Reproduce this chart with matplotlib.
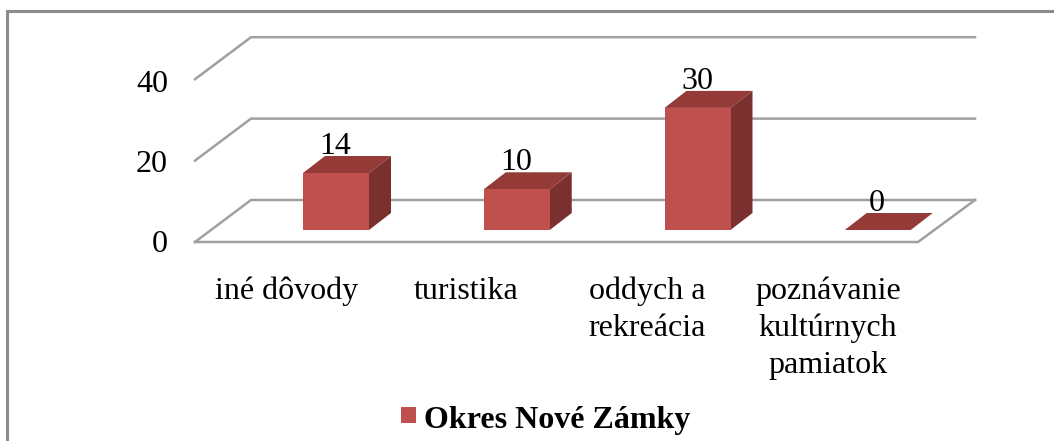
import matplotlib
matplotlib.use("Agg")
import matplotlib.pyplot as plt
from matplotlib.patches import Polygon, Rectangle

categories = ["iné dôvody", "turistika", "oddych a\nrekreácia", "poznávanie\nkultúrnych\npamiatok"]
values = [14, 10, 30, 0]
ticks = [0, 20, 40]
series_name = "Okres Nové Zámky"

W, H = 1054, 441
plt.rcParams["font.family"] = ["Liberation Serif", "DejaVu Serif"]
fig = plt.figure(figsize=(W / 100, H / 100), dpi=100, facecolor="white")
ax = fig.add_axes([0, 0, 1, 1])
ax.axis("off")

# scale: category 0 centre at x=336 px, step 180.75 px; value 0 (bar front) at y=230 px, 4.07 px per unit
XS, YS = 180.75, 4.07
ax.set_xlim((0 - 336) / XS, (W - 336) / XS)
ax.set_ylim((230 - H) / YS, 230 / YS)

def dx(px):
    return px / XS

def dy(px):
    return px / YS

fx = lambda px: (px - 336) / XS
GRID = "#a0a0a0"
FRONT_L, FRONT_R = fx(195), fx(918)
BACK_L, BACK_R = fx(251), fx(975)
FLOOR_FRONT = -dy(12)
BACK = dy(30)

for t in ticks:
    ax.plot([FRONT_L, BACK_L, BACK_R], [t + FLOOR_FRONT, t + BACK, t + BACK],
            color=GRID, lw=1.8, solid_joinstyle="miter", zorder=1)
ax.plot([FRONT_L, FRONT_R, BACK_R], [FLOOR_FRONT, FLOOR_FRONT, BACK], color=GRID, lw=1.8, zorder=1)

FACE, TOP, SIDE = "#c0504d", "#943a37", "#7a302e"
half = dx(33)
DX, DY = dx(22), dy(17)
for i, v in enumerate(values):
    l, r = i - half, i + half
    if i == 3:
        l, r = l - dx(0.5), r - dx(0.5)
    if v > 0:
        ax.add_patch(Polygon([(r, 0), (r + DX, DY), (r + DX, v + DY), (r, v)], fc=SIDE, ec="none", zorder=3))
        ax.add_patch(Rectangle((l, 0), r - l, v, fc=FACE, ec="none", zorder=4))
    ax.add_patch(Polygon([(l, v), (r, v), (r + DX, v + DY), (l + DX, v + DY)], fc=TOP, ec="none", zorder=3))
    ax.text((l + r) / 2 - dx(0.5), v + DY + dy(2), str(v), ha="center", va="baseline", fontsize=23, color="black", zorder=5)

for t in ticks:
    ax.text(fx(168), t * (4.0 / 4.07) + FLOOR_FRONT - dy(2), str(t), ha="right", va="center", fontsize=23, color="black")

label_x = [287, 466, 647, 828]
for x, c in zip(label_x, categories):
    ax.text(fx(x), (230 - 277) / YS, c, ha="center", va="top", fontsize=23, color="black", linespacing=1.33, multialignment="center")

# legend
ax.add_patch(Rectangle((fx(401), (230 - 423) / YS), dx(15), dy(16), fc=FACE, ec="none"))
ax.text(fx(424), (230 - 428) / YS, series_name, ha="left", va="baseline", fontsize=23, fontweight="bold", color="black")

# frame
ax.plot([fx(6.5), fx(6.5), fx(W)], [(230 - H) / YS, (230 - 11) / YS, (230 - 11) / YS], color="#8c8c8c", lw=2.2, zorder=1, solid_joinstyle="miter")

fig.savefig("out.png", dpi=100, facecolor="white")
